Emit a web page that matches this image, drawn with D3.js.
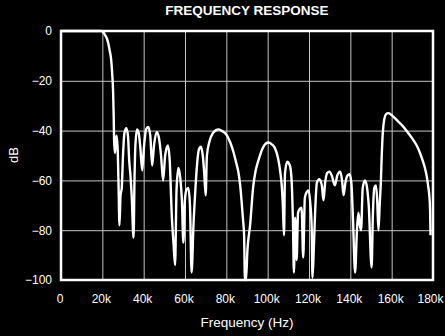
<!DOCTYPE html>
<html>
<head>
<meta charset="utf-8">
<script src="https://cdn.jsdelivr.net/npm/d3@7"></script>
<style>
  html, body { margin: 0; padding: 0; background: #000; }
  svg { display: block; font-family: "Liberation Sans", Arial, Helvetica, sans-serif; }
</style>
</head>
<body>
<div id="chart"></div>
<script>
// frequency in kHz and level in dB
const freqKHz = [
  0, 10, 19.5, 20.5, 21.3, 22.2, 22.9, 23.6, 24.2, 24.8, 25.2, 25.5, 25.7, 26.1, 26.5, 26.9,
  27.4, 27.8, 28.3, 28.8, 29.4, 30.0, 30.7, 31.6, 32.4, 33.0, 33.6, 34.2, 35.1, 35.6, 36.0,
  36.8, 37.6, 38.4, 39.3, 40.2, 41.2, 42.2, 43.2, 44.1, 45.0, 46.3, 47.4, 48.4, 49.4, 50.4,
  51.7, 52.6, 53.6, 54.5, 55.2, 55.9, 56.8, 57.7, 58.5, 59.2, 59.8, 60.6, 61.6, 62.4, 63.2,
  64.1, 65.0, 65.8, 66.6, 67.6, 68.6, 69.3, 70.0, 70.6, 71.8, 73.5, 75.0, 76.2, 77.6, 80.2,
  82.0, 83.4, 84.8, 85.8, 86.7, 87.4, 88.1, 88.6, 89.0, 89.5, 90.2, 91.5, 93.0, 94.2, 95.5,
  97.9, 100.3, 102.0, 103.5, 105.0, 106.0, 106.8, 107.3, 107.9, 108.4, 109.5, 110.5, 111.2,
  111.8, 112.2, 112.7, 113.3, 114.0, 114.7, 115.5, 116.4, 117.2, 118.0, 119.0, 119.8, 120.6,
  121.3, 121.7, 122.3, 123.0, 123.8, 125.0, 126.2, 127.0, 127.8, 128.8, 129.8, 131.0, 132.5,
  133.7, 135.0, 136.0, 136.7, 137.6, 138.6, 139.6, 140.5, 141.3, 142.3, 143.2, 143.9, 144.6,
  145.2, 146.0, 147.1, 148.1, 148.9, 150.3, 150.9, 151.6, 152.4, 153.0, 153.6, 154.2, 154.8,
  155.2, 155.7, 156.4, 157.3, 158.4, 159.6, 160.8, 163.0, 165.6, 168.0, 170.5, 172.3, 173.7,
  175.0, 176.1, 177.0, 177.7, 178.2, 178.6, 178.8
];
const levelDb = [
  0, 0, 0, -0.5, -1.6, -3, -5, -8, -11, -17.5, -24, -34, -44, -49, -44, -42,
  -47, -60, -78, -66, -63, -50, -41, -39, -42, -52, -58, -66, -83, -58, -46,
  -39.5, -41, -47, -56, -46, -39.5, -38.5, -42, -54, -46, -40.5, -43, -50, -60, -50,
  -46, -52, -74, -86, -94, -64, -55, -59, -68, -85, -70, -64, -63, -70, -97,
  -78, -64, -54, -48, -46.5, -50, -57, -66, -50, -44.5, -41, -39.8, -39.5, -40, -41.8,
  -45, -48.5, -53, -56.5, -62, -68.5, -76, -82, -100, -100, -88, -78, -62.5, -56, -52,
  -46.5, -44.8, -45.5, -47, -51, -56, -62, -69, -82, -57, -52.5, -53.5, -56,
  -64, -75, -97, -75, -92, -73, -71.5, -71, -91, -67, -64.5, -64, -69,
  -79, -99, -88, -72, -61, -59.5, -62, -68, -61, -57, -56.5, -58, -62,
  -58, -56.5, -60, -66, -61, -58, -57.5, -61, -76, -97, -80, -73, -78,
  -80, -63, -60, -63, -70, -95, -74, -63, -62, -68, -80, -70, -60,
  -50, -41, -35.5, -33.4, -33, -33.5, -34.4, -36.2, -38.4, -41, -43.8, -46.3, -49,
  -52, -55, -58.5, -62.5, -66, -72, -82
];
const xTicks = [0, 20, 40, 60, 80, 100, 120, 140, 160, 180];
const yTicks = [0, -20, -40, -60, -80, -100];

const width = 445, height = 336;
const margin = { top: 31, right: 12, bottom: 56, left: 61 };
const w = width - margin.left - margin.right;
const h = height - margin.top - margin.bottom;

const svg = d3.select("#chart").append("svg")
  .attr("width", width)
  .attr("height", height)
  .style("background", "#000");

const g = svg.append("g")
  .attr("transform", `translate(${margin.left},${margin.top})`);

const x = d3.scaleLinear().domain([0, 180]).range([0, w]);
const y = d3.scaleLinear().domain([-100, 0]).range([h, 0]);

// grid + tick labels
const xAxis = g.append("g")
  .attr("transform", `translate(0,${h})`)
  .call(d3.axisBottom(x).tickValues(xTicks).tickSize(-h).tickPadding(14)
    .tickFormat(d => d === 0 ? "0" : d + "k"));

const yAxis = g.append("g")
  .call(d3.axisLeft(y).tickValues(yTicks).tickSize(-w).tickPadding(9)
    .tickFormat(d => d === 0 ? "0" : "\u2212" + Math.abs(d)));

[xAxis, yAxis].forEach(a => {
  a.select(".domain").remove();
  a.selectAll(".tick line").attr("stroke", "#c4c4c4").attr("stroke-width", 1);
  a.selectAll(".tick text")
    .attr("fill", "#fff")
    .style("font-size", "12px");
});
// labels sit a touch left of their grid lines; the last one hugs the edge
xAxis.selectAll(".tick text").attr("dx", (d, i) => i === xTicks.length - 1 ? -3 : -1.5);

// response curve
const line = d3.line()
  .x((d, i) => x(freqKHz[i]))
  .y((d, i) => y(levelDb[i]))
  .curve(d3.curveMonotoneX);

g.append("path")
  .datum(levelDb)
  .attr("d", line)
  .attr("fill", "none")
  .attr("stroke", "#fff")
  .attr("stroke-width", 2.4)
  .attr("stroke-linejoin", "round");

// frame
g.append("rect")
  .attr("width", w)
  .attr("height", h)
  .attr("fill", "none")
  .attr("stroke", "#fff")
  .attr("stroke-width", 2.5);

svg.append("text")
  .attr("x", margin.left + w / 2)
  .attr("y", 15)
  .attr("text-anchor", "middle")
  .attr("fill", "#fff")
  .style("font-size", "13.5px")
  .style("font-weight", "bold")
  .text("FREQUENCY RESPONSE");

svg.append("text")
  .attr("x", margin.left + w / 2)
  .attr("y", 327)
  .attr("text-anchor", "middle")
  .attr("fill", "#fff")
  .style("font-size", "13.5px")
  .text("Frequency (Hz)");

svg.append("text")
  .attr("transform", "translate(18,155) rotate(-90)")
  .attr("text-anchor", "middle")
  .attr("fill", "#fff")
  .style("font-size", "13px")
  .text("dB");
</script>
</body>
</html>
